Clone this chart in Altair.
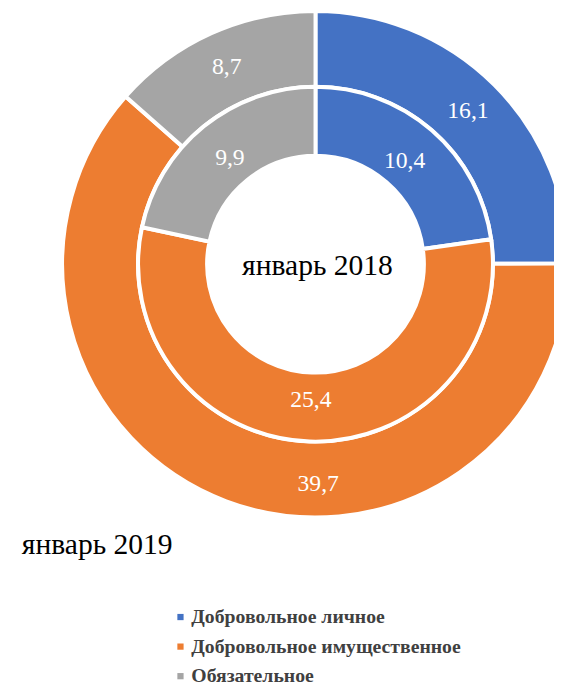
import altair as alt
import pandas as pd

categories = ["Добровольное личное", "Добровольное имущественное", "Обязательное"]
values_2019 = [16.1, 39.7, 8.7]   # outer ring
values_2018 = [10.4, 25.4, 9.9]   # inner ring
labels_2019 = ["16,1", "39,7", "8,7"]
labels_2018 = ["10,4", "25,4", "9,9"]
colors = ["#4472C4", "#ED7D31", "#A5A5A5"]
title_2018 = "январь 2018"
title_2019 = "январь 2019"

CX, CY = 312, 255
FONT = "'Liberation Serif', 'Times New Roman', serif"

df_outer = pd.DataFrame({"cat": categories, "value": values_2019, "label": labels_2019, "idx": [0, 1, 2]})
df_inner = pd.DataFrame({"cat": categories, "value": values_2018, "label": labels_2018, "idx": [0, 1, 2]})

color = alt.Color(
    "cat:N",
    scale=alt.Scale(domain=categories, range=colors),
    sort=categories,
    legend=alt.Legend(
        title=None, orient="none", legendX=165, legendY=603,
        symbolType="square", symbolSize=40, symbolStrokeWidth=0,
        labelFont=FONT, labelFontWeight="bold", labelFontSize=20,
        labelColor="#404040", labelOffset=1, rowPadding=10, labelLimit=400,
    ),
)
theta = alt.Theta("value:Q", stack="normalize")
order = alt.Order("idx:Q")

outer = alt.Chart(df_outer)
inner = alt.Chart(df_inner)

outer_arc = outer.mark_arc(outerRadius=257, innerRadius=180, stroke="white", strokeWidth=4,
                           x=CX, y=CY).encode(theta=theta, color=color, order=order)
inner_arc = inner.mark_arc(outerRadius=180, innerRadius=110, stroke="white", strokeWidth=4,
                           x=CX, y=CY).encode(theta=theta, color=color, order=order)

txt = dict(font=FONT, fontSize=24, color="white", x=CX, y=CY, align="center", baseline="middle")
outer_text = outer.mark_text(radius=219, **txt).encode(
    theta=theta, detail="cat:N", order=order,
    text=alt.condition("datum.idx == 1", alt.value(""), "label:N"))
outer_text_moved = outer.mark_text(radius=219, dx=80, dy=18, **txt).encode(
    theta=theta, detail="cat:N", order=order,
    text=alt.condition("datum.idx == 1", "label:N", alt.value("")))
inner_text = inner.mark_text(radius=138, **txt).encode(
    theta=theta, detail="cat:N", order=order, text="label:N")

center_title = alt.Chart(pd.DataFrame({"t": [title_2018]})).mark_text(
    font=FONT, fontSize=30, color="black", x=CX + 2, y=CY + 2, align="center", baseline="middle"
).encode(text="t:N")
bottom_title = alt.Chart(pd.DataFrame({"t": [title_2019]})).mark_text(
    font=FONT, fontSize=30, color="black", x=14, y=540, align="left", baseline="middle"
).encode(text="t:N")

chart = alt.layer(
    outer_arc, inner_arc, outer_text, outer_text_moved, inner_text, center_title, bottom_title
).properties(
    width=554, height=677, autosize=alt.AutoSizeParams(type="none"), padding=0
).configure_view(stroke=None).configure(background="white")

chart.save("out.html", embed_options={"renderer": "svg", "actions": False})
